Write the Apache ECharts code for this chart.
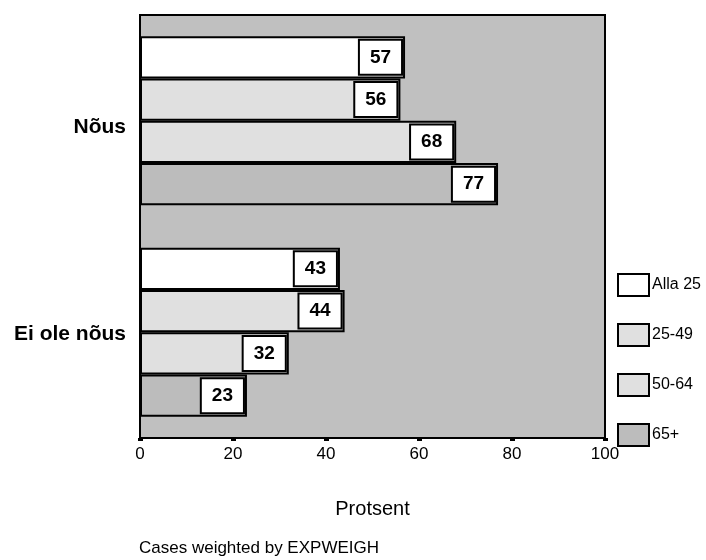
<!DOCTYPE html>
<html><head><meta charset="utf-8">
<script src="https://cdn.jsdelivr.net/npm/echarts@6/dist/echarts.min.js"></script>
<style>html,body{margin:0;padding:0;background:#fff}#c{width:706px;height:560px}</style>
</head><body><div id="c"></div>
<script>
const categories = ['Nõus', 'Ei ole nõus'];
const seriesNames = ['Alla 25', '25-49', '50-64', '65+'];
const alla25 = [57, 43];
const g25_49 = [56, 44];
const g50_64 = [68, 32];
const g65 = [77, 23];
const xTicks = [0, 20, 40, 60, 80, 100];
const colors = ['#ffffff', '#e0e0e0', '#e0e0e0', '#bcbcbc'];
const values = [alla25, g25_49, g50_64, g65];

const chart = echarts.init(document.getElementById('c'));
const font = 'Arial, "Liberation Sans", sans-serif';
const catStyle = { fontFamily: font, fontSize: 21, fontWeight: 'bold', color: '#000' };
chart.setOption({
  animation: false,
  title: {
    text: 'Cases weighted by EXPWEIGH',
    left: 134, top: 535,
    textStyle: { fontFamily: font, fontSize: 17, fontWeight: 'normal', color: '#000' }
  },
  legend: {
    orient: 'vertical', left: 612, top: 268,
    itemWidth: 31, itemHeight: 22, itemGap: 26,
    icon: 'rect',
    data: seriesNames,
    textStyle: { fontFamily: font, fontSize: 16, color: '#000', padding: [0, 0, 0, -2] }
  },
  grid: {
    left: 140, right: 101, top: 15, bottom: 122,
    show: true, backgroundColor: '#c0c0c0', borderColor: '#000', borderWidth: 2
  },
  xAxis: {
    type: 'value', min: 0, max: 100, interval: 20,
    name: 'Protsent', nameLocation: 'middle', nameGap: 61,
    nameTextStyle: { fontFamily: font, fontSize: 20, color: '#000' },
    axisLine: { show: true, lineStyle: { color: '#000', width: 2 } },
    axisTick: { show: true, length: 3, lineStyle: { color: '#000', width: 5 } },
    axisLabel: { fontFamily: font, fontSize: 17, color: '#000', margin: 8,
      formatter: v => xTicks.includes(v) ? String(v) : '' },
    splitLine: { show: false }
  },
  yAxis: {
    type: 'category', inverse: true, data: categories,
    axisLine: { show: true, lineStyle: { color: '#000', width: 2 } },
    axisTick: { show: false },
    axisLabel: {
      margin: 14,
      formatter: (v, i) => '{c' + i + '|' + v + '}',
      rich: {
        c0: Object.assign({ padding: [12, 0, 0, 0] }, catStyle),
        c1: Object.assign({ padding: [4, 0, 0, 0] }, catStyle)
      }
    }
  },
  series: seriesNames.map((n, i) => ({
    name: n, type: 'bar', data: values[i],
    barGap: '0%', barCategoryGap: '20%',
    itemStyle: { color: colors[i], borderColor: '#000', borderWidth: 2 },
    label: {
      show: true, position: 'insideRight', distance: 4,
      fontFamily: font, fontSize: 19, fontWeight: 'bold', color: '#000',
      backgroundColor: '#fff', borderColor: '#000', borderWidth: 2,
      padding: [7, 10, 6, 10], lineHeight: 20
    }
  }))
});
</script></body></html>
